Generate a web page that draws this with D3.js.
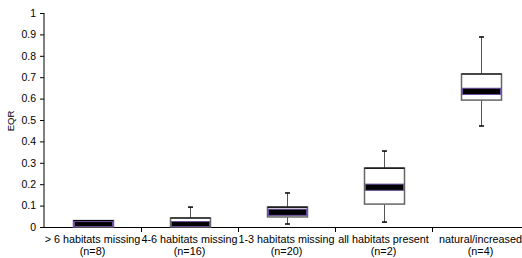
<!DOCTYPE html>
<html>
<head>
<meta charset="utf-8">
<script src="https://cdn.jsdelivr.net/npm/d3@7"></script>
<style>
  body { margin: 0; background: #fff; }
  svg { display: block; font-family: "Liberation Sans", Arial, sans-serif; }
</style>
</head>
<body>
<svg id="chart" width="522" height="258"></svg>
<script>
const categories = ["> 6 habitats missing", "4-6 habitats missing", "1-3 habitats missing", "all habitats present", "natural/increased"];
const counts = ["(n=8)", "(n=16)", "(n=20)", "(n=2)", "(n=4)"];
const whiskerLow = [0, 0, 0.014, 0.023, 0.472];
const q1 = [0, 0, 0.047, 0.107, 0.593];
const median = [0.012, 0.012, 0.07, 0.187, 0.635];
const q3 = [0.03, 0.042, 0.093, 0.275, 0.715];
const whiskerHigh = [0.03, 0.093, 0.159, 0.355, 0.888];
const yTicks = [0, 0.1, 0.2, 0.3, 0.4, 0.5, 0.6, 0.7, 0.8, 0.9, 1];

const svg = d3.select("#chart");
const x = d3.scaleBand().domain(categories).range([44, 529]);
const y = d3.scaleLinear().domain([0, 1]).range([227, 13]);

const boxW = 40;
const bandH = 0.036; // median band thickness in data units

// y axis
svg.append("g")
    .attr("transform", "translate(44,0)")
    .call(d3.axisLeft(y).tickValues(yTicks).tickSize(4).tickFormat(d => d))
    .call(g => g.select(".domain").attr("stroke", "#000").attr("d", "M0,227V13"))
    .call(g => g.selectAll("text").attr("font-size", 10.5).attr("fill", "#000").attr("x", -8));

svg.append("text")
    .attr("transform", "translate(14,121) rotate(-90)")
    .attr("text-anchor", "middle")
    .attr("font-size", 9.5)
    .text("EQR");

// x axis line + boundary ticks
svg.append("line").attr("x1", 44).attr("x2", 522).attr("y1", 227.5).attr("y2", 227.5).attr("stroke", "#000");
categories.forEach((c, i) => {
    if (i === 0) return;
    svg.append("line")
        .attr("x1", x(c) + 0.5).attr("x2", x(c) + 0.5)
        .attr("y1", 227).attr("y2", 232)
        .attr("stroke", "#000");
});

categories.forEach((c, i) => {
    const cx = Math.round(x(c) + x.bandwidth() / 2) + 0.5;
    const g = svg.append("g");
    // whiskers
    g.append("line").attr("x1", cx).attr("x2", cx).attr("y1", y(q3[i])).attr("y2", y(whiskerHigh[i])).attr("stroke", "#555");
    g.append("line").attr("x1", cx).attr("x2", cx).attr("y1", y(q1[i])).attr("y2", y(whiskerLow[i])).attr("stroke", "#555");
    if (whiskerHigh[i] > q3[i]) {
        g.append("line").attr("x1", cx - 2.5).attr("x2", cx + 2.5).attr("y1", y(whiskerHigh[i])).attr("y2", y(whiskerHigh[i])).attr("stroke", "#000").attr("stroke-width", 1.5);
    }
    if (whiskerLow[i] < q1[i]) {
        g.append("line").attr("x1", cx - 2.5).attr("x2", cx + 2.5).attr("y1", y(whiskerLow[i])).attr("y2", y(whiskerLow[i])).attr("stroke", "#000").attr("stroke-width", 1.5);
    }
    // box
    g.append("rect")
        .attr("x", cx - boxW / 2).attr("y", y(q3[i]))
        .attr("width", boxW).attr("height", y(q1[i]) - y(q3[i]))
        .attr("fill", "#fff").attr("stroke", "#666").attr("stroke-width", 1.5);
    g.append("line")
        .attr("x1", cx - boxW / 2).attr("x2", cx + boxW / 2)
        .attr("y1", y(q3[i])).attr("y2", y(q3[i]))
        .attr("stroke", "#000").attr("stroke-width", 1.2);
    // median band
    const top = Math.min(q3[i], median[i] + bandH / 2);
    const bot = Math.max(q1[i], median[i] - bandH / 2);
    g.append("rect")
        .attr("x", cx - boxW / 2 + 1).attr("y", y(top) + 1)
        .attr("width", boxW - 2).attr("height", Math.max(1, y(bot) - y(top) - 1.5))
        .attr("fill", "#000").attr("stroke", "#6a4c9c").attr("stroke-width", 1);
});

// x labels
categories.forEach((c, i) => {
    const cx = x(c) + x.bandwidth() / 2;
    const t = svg.append("text").attr("text-anchor", "middle").attr("font-size", 10.8).attr("fill", "#000");
    t.append("tspan").attr("x", cx).attr("y", 243).text(c);
    t.append("tspan").attr("x", cx).attr("y", 255).text(counts[i]);
});
</script>
</body>
</html>
